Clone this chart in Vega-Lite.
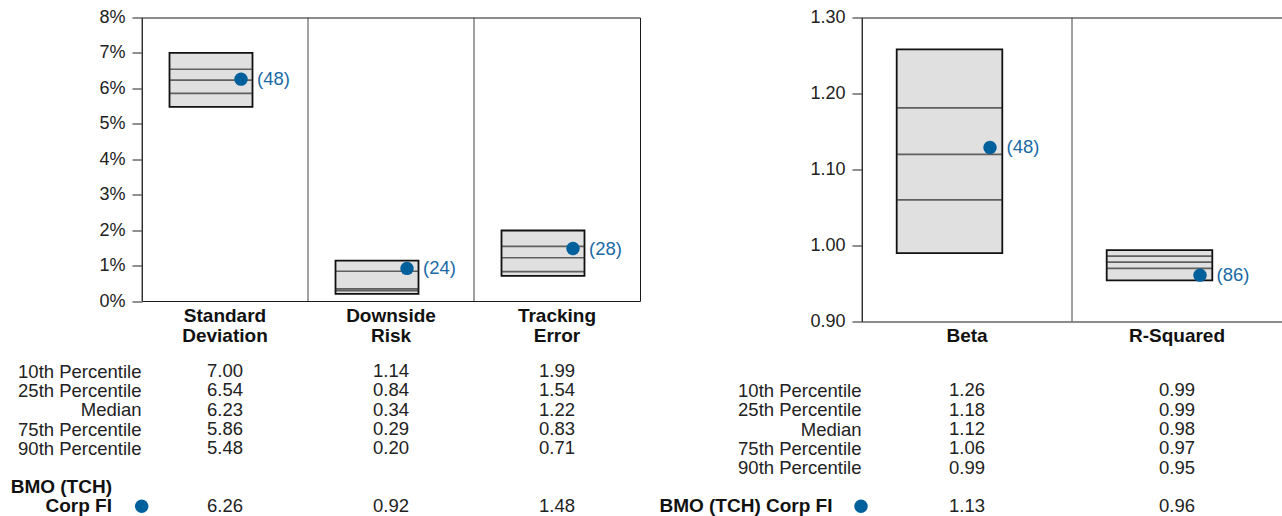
{
  "$schema": "https://vega.github.io/schema/vega-lite/v6.json",
  "padding": {"left": 10, "top": 7.5, "right": 0, "bottom": 0},
  "autosize": {"type": "pad"},
  "background": "white",
  "config": {
    "font": "Liberation Sans",
    "view": {"stroke": null},
    "axis": {"labelFont": "Liberation Sans", "labelColor": "#222", "domain": false, "grid": false, "labelOverlap": false, "labelSeparation": 0}
  },
  "datasets": {
    "risk": [
      {"cat": "Standard Deviation", "p10": 7.00, "p25": 6.54, "median": 6.23, "p75": 5.86, "p90": 5.48, "fund": 6.26, "rank": "(48)"},
      {"cat": "Downside Risk", "p10": 1.14, "p25": 0.84, "median": 0.34, "p75": 0.29, "p90": 0.20, "fund": 0.92, "rank": "(24)"},
      {"cat": "Tracking Error", "p10": 1.99, "p25": 1.54, "median": 1.22, "p75": 0.83, "p90": 0.71, "fund": 1.48, "rank": "(28)"}
    ],
    "rel": [
      {"cat": "Beta", "p10": 1.258, "p25": 1.181, "median": 1.12, "p75": 1.06, "p90": 0.99, "fund": 1.129, "rank": "(48)"},
      {"cat": "R-Squared", "p10": 0.994, "p25": 0.986, "median": 0.978, "p75": 0.970, "p90": 0.954, "fund": 0.961, "rank": "(86)"}
    ],
    "notesL": [
      {"cat": "Standard Deviation", "row": "g2", "t": "BMO (TCH)"},
      {"cat": "Standard Deviation", "row": "fund", "t": "Corp FI"}
    ],
    "dotL": [{"cat": "Standard Deviation", "row": "fund"}],
    "notesR": [{"cat": "Beta", "row": "fund", "t": "BMO (TCH) Corp FI"}]
  },
  "bounds": "flush",
  "columns": 2,
  "spacing": {"row": 40, "column": 222},
  "concat": [
    {
      "width": 498,
      "height": 283.5,
      "view": {"stroke": "#1a1a1a", "strokeWidth": 1},
      "data": {"name": "risk"},
      "layer": [
        {
          "mark": {"type": "bar", "width": 83, "xOffset": -14, "fill": "#e0e0e0", "stroke": "#111", "strokeWidth": 1.8},
          "encoding": {
            "x": {"field": "cat", "type": "nominal", "sort": null, "scale": {"paddingInner": 0, "paddingOuter": 0},
                  "axis": {"orient": "bottom", "title": null, "ticks": false, "labelPadding": 5, "labelExpr": "split(datum.label, ' ')", "labelFontSize": 19, "labelFontWeight": "bold", "labelColor": "#111", "labelLineHeight": 20, "labelAngle": 0}},
            "y": {"field": "p90", "type": "quantitative", "scale": {"domain": [0, 8], "nice": false, "zero": true},
                  "axis": {"title": null, "tickCount": 9, "labelOverlap": false, "labelExpr": "format(datum.value, 'd') + '%'", "tickSize": 10, "tickColor": "#222", "tickWidth": 1, "labelFontSize": 18, "labelPadding": 7}},
            "y2": {"field": "p10"}
          }
        },
        {
          "mark": {"type": "rule", "color": "#444", "strokeWidth": 1},
          "encoding": {"x": {"field": "cat", "type": "nominal", "sort": null, "bandPosition": 0}}
        },
        {
          "mark": {"type": "tick", "orient": "horizontal", "size": 83, "thickness": 1.7, "xOffset": -14, "color": "#2a2a2a"},
          "encoding": {"x": {"field": "cat", "type": "nominal", "sort": null}, "y": {"field": "p25", "type": "quantitative"}}
        },
        {
          "mark": {"type": "tick", "orient": "horizontal", "size": 83, "thickness": 1.7, "xOffset": -14, "color": "#2a2a2a"},
          "encoding": {"x": {"field": "cat", "type": "nominal", "sort": null}, "y": {"field": "median", "type": "quantitative"}}
        },
        {
          "mark": {"type": "tick", "orient": "horizontal", "size": 83, "thickness": 1.7, "xOffset": -14, "color": "#2a2a2a"},
          "encoding": {"x": {"field": "cat", "type": "nominal", "sort": null}, "y": {"field": "p75", "type": "quantitative"}}
        },
        {
          "mark": {"type": "circle", "size": 180, "xOffset": 16, "color": "#00609c", "opacity": 1},
          "encoding": {"x": {"field": "cat", "type": "nominal", "sort": null}, "y": {"field": "fund", "type": "quantitative"}}
        },
        {
          "mark": {"type": "text", "align": "left", "baseline": "middle", "dx": 32, "fontSize": 18.5, "color": "#1a6aa5"},
          "encoding": {"x": {"field": "cat", "type": "nominal", "sort": null}, "y": {"field": "fund", "type": "quantitative"}, "text": {"field": "rank"}}
        }
      ]
    },
    {
      "width": 420,
      "height": 304,
      "view": {"stroke": "#1a1a1a", "strokeWidth": 1},
      "data": {"name": "rel"},
      "layer": [
        {
          "mark": {"type": "bar", "width": 105.6, "xOffset": -17.5, "fill": "#e0e0e0", "stroke": "#111", "strokeWidth": 1.8},
          "encoding": {
            "x": {"field": "cat", "type": "nominal", "sort": null, "scale": {"paddingInner": 0, "paddingOuter": 0},
                  "axis": {"orient": "bottom", "title": null, "ticks": false, "labelPadding": 5, "labelFontSize": 19, "labelFontWeight": "bold", "labelColor": "#111", "labelAngle": 0}},
            "y": {"field": "p90", "type": "quantitative", "scale": {"domain": [0.9, 1.3], "nice": false, "zero": false},
                  "axis": {"title": null, "values": [0.9, 1.0, 1.1, 1.2, 1.3], "labelOverlap": false, "format": ".2f", "tickSize": 10, "tickColor": "#222", "tickWidth": 1, "labelFontSize": 18, "labelPadding": 7}},
            "y2": {"field": "p10"}
          }
        },
        {
          "mark": {"type": "rule", "color": "#444", "strokeWidth": 1},
          "encoding": {"x": {"field": "cat", "type": "nominal", "sort": null, "bandPosition": 0}}
        },
        {
          "mark": {"type": "tick", "orient": "horizontal", "size": 105.6, "thickness": 1.7, "xOffset": -17.5, "color": "#2a2a2a"},
          "encoding": {"x": {"field": "cat", "type": "nominal", "sort": null}, "y": {"field": "p25", "type": "quantitative"}}
        },
        {
          "mark": {"type": "tick", "orient": "horizontal", "size": 105.6, "thickness": 1.7, "xOffset": -17.5, "color": "#2a2a2a"},
          "encoding": {"x": {"field": "cat", "type": "nominal", "sort": null}, "y": {"field": "median", "type": "quantitative"}}
        },
        {
          "mark": {"type": "tick", "orient": "horizontal", "size": 105.6, "thickness": 1.7, "xOffset": -17.5, "color": "#2a2a2a"},
          "encoding": {"x": {"field": "cat", "type": "nominal", "sort": null}, "y": {"field": "p75", "type": "quantitative"}}
        },
        {
          "mark": {"type": "circle", "size": 180, "xOffset": 23, "color": "#00609c", "opacity": 1},
          "encoding": {"x": {"field": "cat", "type": "nominal", "sort": null}, "y": {"field": "fund", "type": "quantitative"}}
        },
        {
          "mark": {"type": "text", "align": "left", "baseline": "middle", "dx": 39.5, "fontSize": 18.5, "color": "#1a6aa5"},
          "encoding": {"x": {"field": "cat", "type": "nominal", "sort": null}, "y": {"field": "fund", "type": "quantitative"}, "text": {"field": "rank"}}
        }
      ]
    },
    {
      "width": 498,
      "height": 154.4,
      "layer": [
        {
          "data": {"name": "risk"},
          "transform": [{"fold": ["p10", "p25", "median", "p75", "p90", "fund"], "as": ["stat", "val"]}],
          "mark": {"type": "text", "fontSize": 18.5, "color": "#222", "baseline": "middle"},
          "encoding": {
            "x": {"field": "cat", "type": "nominal", "sort": null, "scale": {"paddingInner": 0, "paddingOuter": 0}, "axis": {"title": null, "labels": false, "ticks": false, "domain": false}},
            "y": {"field": "stat", "type": "nominal",
                  "scale": {"type": "point", "domain": ["p10", "p25", "median", "p75", "p90", "g1", "g2", "fund"], "padding": 0.5},
                  "axis": {"title": null, "values": ["p10", "p25", "median", "p75", "p90"], "labelOverlap": false, "labelExpr": "datum.value == 'p10' ? '10th Percentile' : datum.value == 'p25' ? '25th Percentile' : datum.value == 'median' ? 'Median' : datum.value == 'p75' ? '75th Percentile' : '90th Percentile'", "ticks": false, "domain": false, "labelPadding": 1, "labelFontSize": 18.5, "labelColor": "#222"}},
            "text": {"field": "val", "type": "quantitative", "format": ".2f"}
          }
        },
        {
          "data": {"name": "notesL"},
          "mark": {"type": "text", "align": "right", "baseline": "middle", "dx": -113, "fontSize": 19, "fontWeight": "bold", "color": "#111"},
          "encoding": {
            "x": {"field": "cat", "type": "nominal", "sort": null},
            "y": {"field": "row", "type": "nominal"},
            "text": {"field": "t"}
          }
        },
        {
          "data": {"name": "dotL"},
          "mark": {"type": "circle", "size": 180, "xOffset": -83.3, "color": "#00609c", "opacity": 1},
          "encoding": {
            "x": {"field": "cat", "type": "nominal", "sort": null},
            "y": {"field": "row", "type": "nominal"}
          }
        }
      ]
    },
    {
      "width": 420,
      "height": 154.4,
      "layer": [
        {
          "data": {"name": "rel"},
          "transform": [{"fold": ["p10", "p25", "median", "p75", "p90", "fund"], "as": ["stat", "val"]}],
          "mark": {"type": "text", "fontSize": 18.5, "color": "#222", "baseline": "middle"},
          "encoding": {
            "x": {"field": "cat", "type": "nominal", "sort": null, "scale": {"paddingInner": 0, "paddingOuter": 0}, "axis": {"title": null, "labels": false, "ticks": false, "domain": false}},
            "y": {"field": "stat", "type": "nominal",
                  "scale": {"type": "point", "domain": ["blank", "p10", "p25", "median", "p75", "p90", "g1", "fund"], "padding": 0.5},
                  "axis": {"title": null, "values": ["p10", "p25", "median", "p75", "p90"], "labelOverlap": false, "labelExpr": "datum.value == 'p10' ? '10th Percentile' : datum.value == 'p25' ? '25th Percentile' : datum.value == 'median' ? 'Median' : datum.value == 'p75' ? '75th Percentile' : '90th Percentile'", "ticks": false, "domain": false, "labelPadding": 1, "labelFontSize": 18.5, "labelColor": "#222"}},
            "text": {"field": "val", "type": "quantitative", "format": ".2f"}
          }
        },
        {
          "data": {"name": "notesR"},
          "mark": {"type": "text", "align": "right", "baseline": "middle", "dx": -134.5, "fontSize": 19, "fontWeight": "bold", "color": "#111"},
          "encoding": {
            "x": {"field": "cat", "type": "nominal", "sort": null},
            "y": {"field": "row", "type": "nominal"},
            "text": {"field": "t"}
          }
        },
        {
          "data": {"name": "notesR"},
          "mark": {"type": "circle", "size": 180, "xOffset": -106, "color": "#00609c", "opacity": 1},
          "encoding": {
            "x": {"field": "cat", "type": "nominal", "sort": null},
            "y": {"field": "row", "type": "nominal"}
          }
        }
      ]
    }
  ]
}
